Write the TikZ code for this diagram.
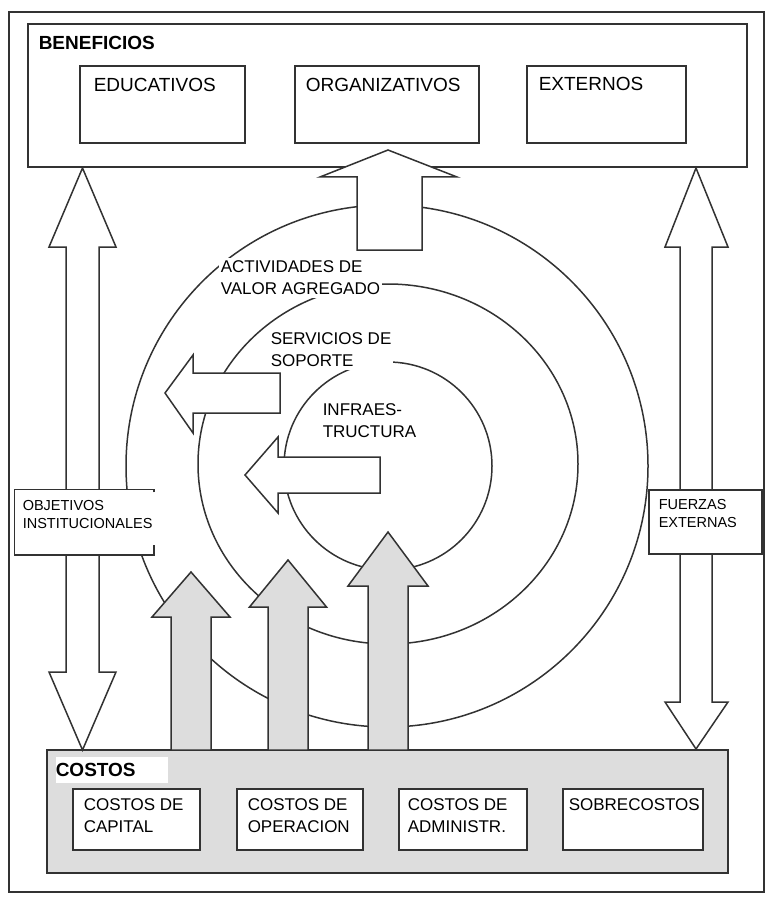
\documentclass[tikz,border=0pt]{standalone}
\usepackage{fontspec}
\setmainfont{Liberation Sans}
\usetikzlibrary{positioning}
\definecolor{linegrey}{RGB}{50,50,50}
\definecolor{costgrey}{RGB}{221,221,221}

\begin{document}
\begin{tikzpicture}[x=1pt, y=-1pt, line width=1.5pt, draw=linegrey, line join=miter,
  box/.style={draw=linegrey, fill=white, inner sep=0pt},
  txt/.style={anchor=north west, inner sep=0pt, align=left},
  bigfont/.style={font=\fontsize{19}{23}\selectfont},
  midfont/.style={font=\fontsize{17}{22}\selectfont},
  smallfont/.style={font=\fontsize{14.5}{18}\selectfont},
  ringtext/.style={txt, midfont, fill=white, inner xsep=2pt, inner ysep=3pt},
  hollowarrow/.style={draw=linegrey, fill=white},
  greyarrow/.style={draw=linegrey, fill=costgrey}]

\useasboundingbox (0,0) rectangle (768,904);

% frame
\draw (9,12) rectangle (764,892);

% rings
\draw (387,466) circle (261pt);
\draw (388,464) ellipse (190pt and 180pt);
\draw (388,466) circle (104pt);

\node[ringtext] (act) at (218,257) {ACTIVIDADES DE\\VALOR AGREGADO};
\node[ringtext] (serv) at (268,329) {SERVICIOS DE\\SOPORTE};
\node[ringtext] (infra) at (320,400) {INFRAES-\\TRUCTURA};

% beneficios
\node[box, minimum width=719pt, minimum height=143pt] (ben) at (387.5,95.5) {};
\node[txt, bigfont] (benT) at (38,35) {\textbf{BENEFICIOS}};

\node[box, minimum width=165pt, minimum height=77pt] (edu) at (162.5,104.5) {};
\node[txt, bigfont] (eduT) at (93,77) {EDUCATIVOS};
\node[box, minimum width=184pt, minimum height=77pt] (org) at (387,104.5) {};
\node[txt, bigfont] (orgT) at (305,77) {ORGANIZATIVOS};
\node[box, minimum width=159pt, minimum height=77pt] (ext) at (606.5,104.5) {};
\node[txt, bigfont] (extT) at (538,76) {EXTERNOS};

% arrow up to beneficios
\filldraw[hollowarrow] (388,150) -- (457,177) -- (422,177) -- (422,250) -- (357,250) -- (357,177) -- (320,177) -- cycle;

% arrows out of the rings
\filldraw[hollowarrow] (165,393) -- (193,355) -- (193,373) -- (280,373) -- (280,413) -- (193,413) -- (193,433) -- cycle;
\filldraw[hollowarrow] (245,475) -- (278,437) -- (278,457) -- (380,457) -- (380,493) -- (278,493) -- (278,513) -- cycle;

% costos
\node[box, fill=costgrey, minimum width=681pt, minimum height=123pt] (cos) at (387.5,811.5) {};
\node[fill=white, anchor=north west, inner sep=0pt, text width=112pt, minimum height=26pt, align=left, bigfont] (cosT) at (55,756) {\textbf{COSTOS}};

\node[box, minimum width=127pt, minimum height=61pt] (cap) at (136.5,819.5) {};
\node[txt, midfont] (capT) at (83,798) {COSTOS DE\\CAPITAL};
\node[box, minimum width=126pt, minimum height=61pt] (ope) at (300,819.5) {};
\node[txt, midfont] (opeT) at (247,798) {COSTOS DE\\OPERACION};
\node[box, minimum width=128pt, minimum height=61pt] (adm) at (463,819.5) {};
\node[txt, midfont] (admT) at (407,798) {COSTOS DE\\ADMINISTR.};
\node[box, minimum width=140pt, minimum height=61pt] (sob) at (633,819.5) {};
\node[txt, midfont] (sobT) at (568,798) {SOBRECOSTOS};

% cost arrows
\foreach \cx/\tip/\base/\hw in {191/572/617/39, 288/560/607/38.5, 388/532/586/40}
  \filldraw[greyarrow] (\cx,\tip) -- (\cx+\hw,\base) -- (\cx+20,\base) -- (\cx+20,750) -- (\cx-20,750) -- (\cx-20,\base) -- (\cx-\hw,\base) -- cycle;

% side double arrows
\filldraw[hollowarrow] (82.5,168) -- (116,247) -- (99,247) -- (99,672) -- (116,672) -- (82.5,750) -- (49,672) -- (66,672) -- (66,247) -- (49,247) -- cycle;
\filldraw[hollowarrow] (696,168) -- (728,247) -- (712,247) -- (712,702) -- (728,702) -- (696,749) -- (665,702) -- (680,702) -- (680,247) -- (665,247) -- cycle;

% side boxes
\node[fill=white, inner sep=0pt, minimum width=138pt, minimum height=64pt] (obj) at (84,522) {};
\draw ([yshift=-3pt]obj.north east) -- (obj.north east) -- (obj.north west) -- (obj.south west) -- (obj.south east) -- ([yshift=10pt]obj.south east);
\node[txt, smallfont] (objT) at (22,500) {OBJETIVOS\\INSTITUCIONALES};

\node[box, minimum width=113pt, minimum height=64pt] (fue) at (705.5,522) {};
\node[txt, smallfont] (fueT) at (658,499) {FUERZAS\\EXTERNAS};
\end{tikzpicture}
\end{document}
